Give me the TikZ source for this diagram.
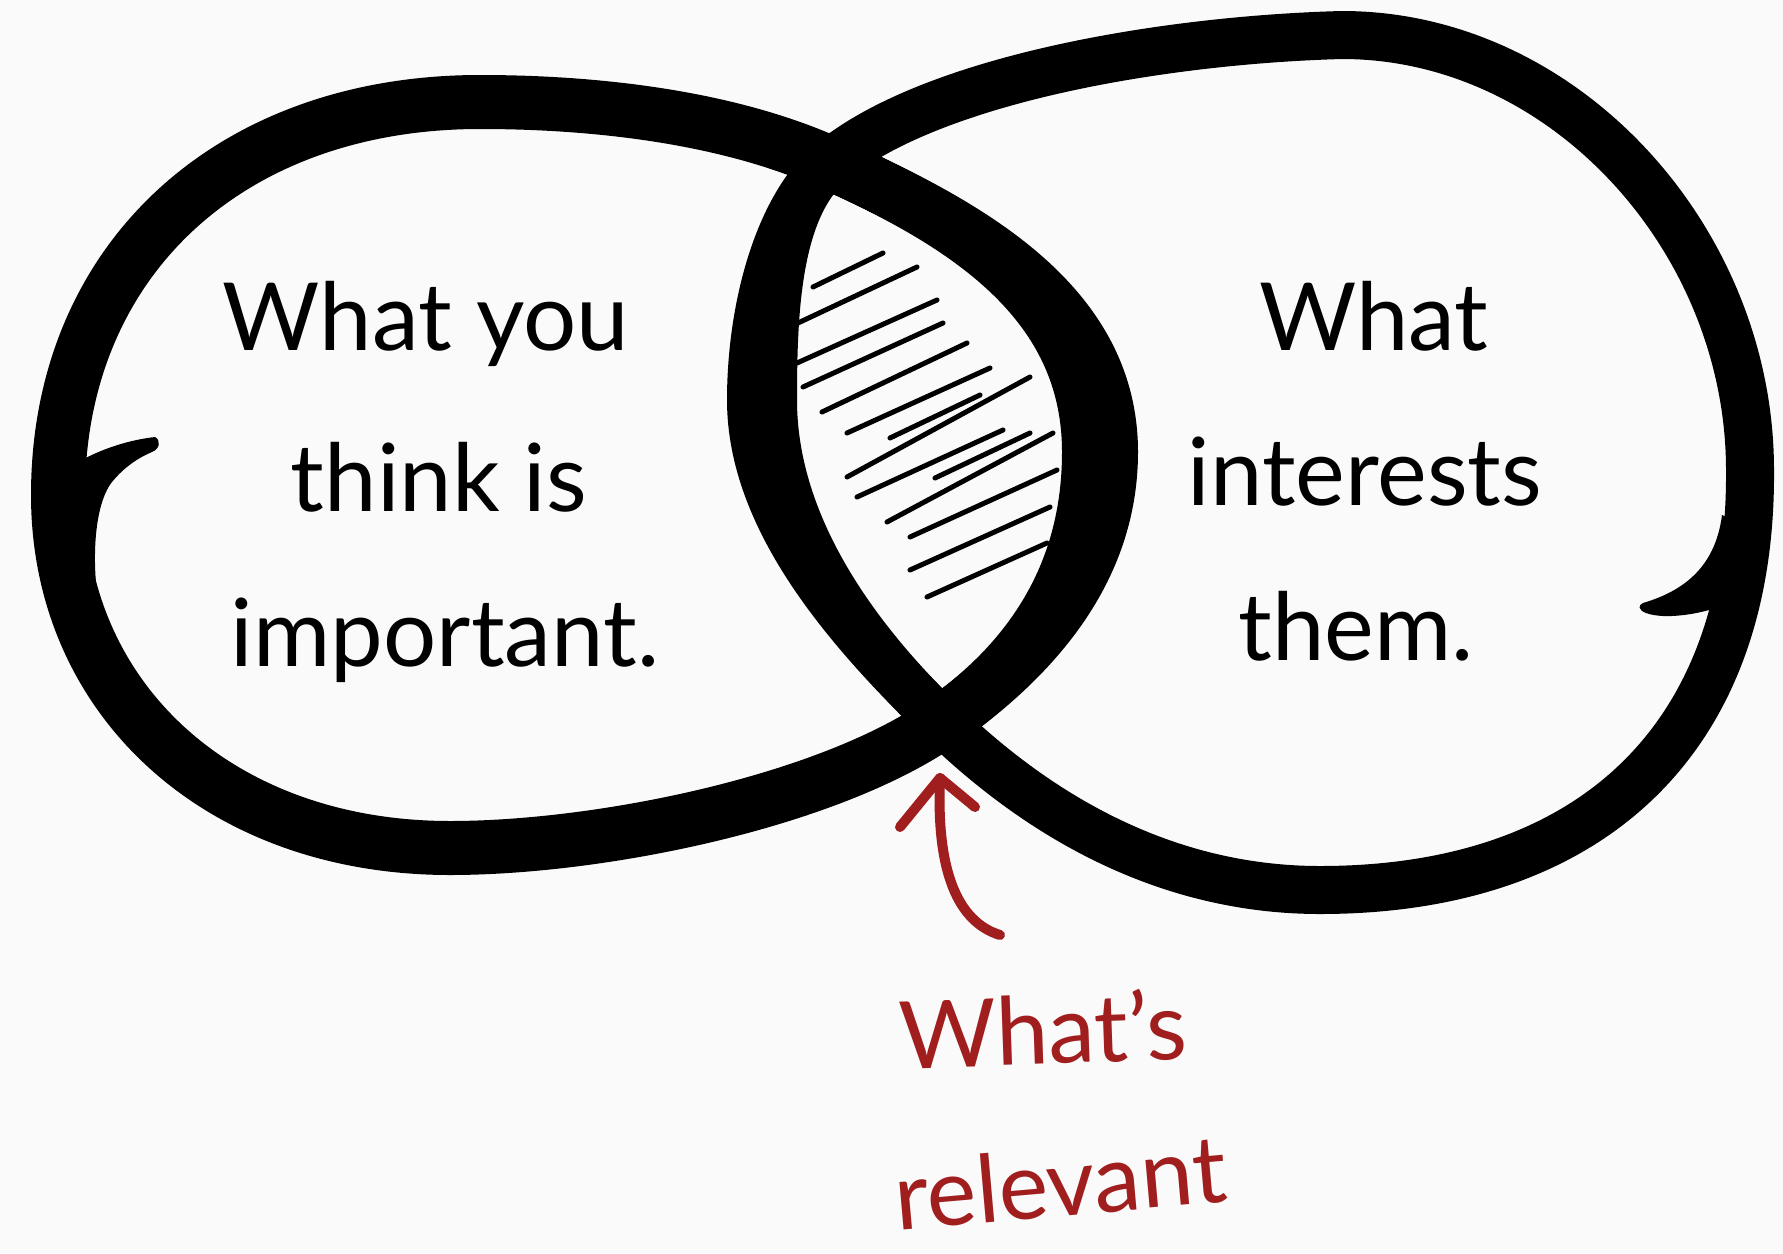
\documentclass[tikz,border=0pt]{standalone}
\usepackage{fontspec}
\setmainfont{Lato}
\definecolor{redink}{HTML}{A01E1E}
\definecolor{paper}{HTML}{FAFAFA}
\begin{document}
\begin{tikzpicture}[x=0.5pt,y=-0.5pt,
  brush/.style={draw=black, line cap=round, line join=round, line width=#1},
  hatchline/.style={line width=2.5pt, line cap=round},
  txt/.style={font=\fontsize{47}{50}\selectfont, anchor=base, inner sep=0pt},
  redtxt/.style={txt, text=redink},
  pointer/.style={draw=redink, line width=5pt, line cap=round, line join=round}]
\fill[paper] (0,0) rectangle (1783,1253);
\useasboundingbox (0,0) rectangle (1783,1253);
% ---------- left loop ----------
\draw[brush=27pt] (480,102) .. controls (600,102) and (730,118) .. (830,163)
  .. controls (966,224) and (1100,302) .. (1100,452)
  .. controls (1100,572) and (1032,659) .. (942,722)
  .. controls (827,802) and (600,848) .. (450,848)
  .. controls (220,848) and (58,700) .. (58,495)
  .. controls (58,260) and (230,102) .. cycle;
\draw[brush=27pt] (830,163) .. controls (966,224) and (1111,302) .. (1111,452)
  .. controls (1111,572) and (1032,659) .. (942,722);
\draw[brush=27pt] (830,163) .. controls (966,224) and (1089,302) .. (1089,452)
  .. controls (1089,572) and (1032,659) .. (942,722);
% tail of the left loop
\fill (155,437) .. controls (120,441) and (85,455) .. (60,474) -- (40,560) -- (98,600)
  .. controls (92,560) and (94,505) .. (112,482) .. controls (125,466) and (140,457) .. (152,452)
  .. controls (160,449) and (161,440) .. cycle;
% ---------- right loop ----------
\draw[brush=24pt] (1342,35) .. controls (1160,40) and (930,80) .. (830,163)
  .. controls (777,209) and (762,310) .. (762,400)
  .. controls (762,520) and (848,631) .. (942,722)
  .. controls (1043,820) and (1170,890) .. (1320,890)
  .. controls (1590,890) and (1752,740) .. (1750,470)
  .. controls (1750,240) and (1565,35) .. cycle;
\draw[brush=24pt] (830,163) .. controls (777,209) and (751,310) .. (751,400)
  .. controls (751,520) and (848,631) .. (942,722);
\draw[brush=24pt] (830,163) .. controls (777,209) and (773,310) .. (773,400)
  .. controls (773,520) and (848,631) .. (942,722);
% tail of the right loop
\fill (1643,603) .. controls (1680,592) and (1715,570) .. (1722,515) -- (1752,530) -- (1745,600) -- (1722,606)
  .. controls (1700,614) and (1665,620) .. (1646,613) .. controls (1638,610) and (1638,605) .. cycle;
% ---------- hatching ----------
\foreach \a/\b in {{813,287}/{883,253},{798,323}/{917,267},{797,363}/{937,300},{803,387}/{943,323},
  {822,412}/{967,343},{847,433}/{990,368},{890,438}/{980,395},{847,477}/{1030,377},{857,497}/{1003,430},
  {935,478}/{1030,433},{887,522}/{1053,433},{910,537}/{1057,470},{910,570}/{1050,507},{927,597}/{1047,543}}
  \draw[hatchline] (\a) -- (\b);
% ---------- texts ----------
\node[txt] (l1) at (426,350) {What you};
\node[txt] (l2) at (439,511) {think is};
\node[txt] (l3) at (445,666) {important.};
\node[txt] (r1) at (1374,350) {What};
\node[txt] (r2) at (1365,505) {interests};
\node[txt] (r3) at (1356,660) {them.};
\node[redtxt, rotate=2] (rel1) at (1044,1064) {What’s};
\node[redtxt, rotate=5] (rel2) at (1063,1216) {relevant};
% ---------- pointer ----------
\coordinate (ptip) at (940,778);
\coordinate (ptail) at (1000,935);
\draw[pointer] (ptail) .. controls (958,922) and (936,872) .. (ptip);
\draw[pointer] (900,827) -- (ptip) -- (975,807);
\end{tikzpicture}
\end{document}
